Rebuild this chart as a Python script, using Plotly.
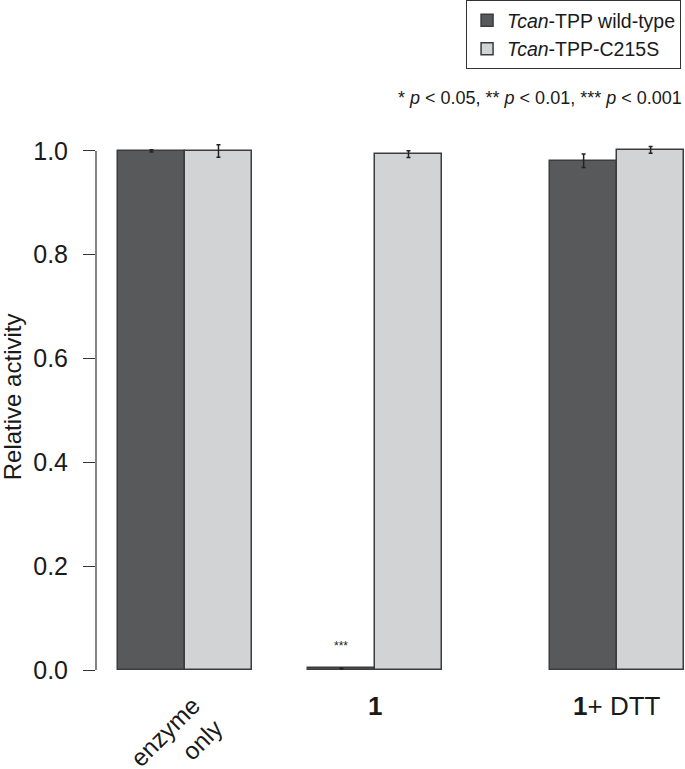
import plotly.graph_objects as go

# ---- data ----
categories = ["enzyme<br>only", "<b>1</b>", "<b>1</b>+ DTT"]
series_names = ["<i>Tcan</i>-TPP wild-type", "<i>Tcan</i>-TPP-C215S"]
wt_values = [1.000, 0.003, 0.981]
wt_errors = [0.002, 0.001, 0.013]
c215s_values = [1.000, 0.994, 1.002]
c215s_errors = [0.012, 0.0065, 0.0065]
significance = ["", "***", ""]
footnote = "* <i>p</i> < 0.05, ** <i>p</i> < 0.01, *** <i>p</i> < 0.001"
y_title = "Relative activity"
y_ticks = [0.0, 0.2, 0.4, 0.6, 0.8, 1.0]

# ---- layout settings ----
group_centers = [0.0, 2.836, 6.45]   # uneven group spacing as in the original
FONT = "Arial, 'Liberation Sans', Helvetica, sans-serif"
dark = "#58595b"
light = "#d1d3d4"
edge = "#3c3c3c"

fig = go.Figure()
fig.add_trace(go.Bar(
    x=group_centers, y=wt_values, name=series_names[0],
    width=1.0, offset=-1.0,
    marker=dict(color=dark, line=dict(color=edge, width=1.5)),
    error_y=dict(type="data", array=wt_errors, color="#222222", thickness=1.5, width=2),
))
fig.add_trace(go.Bar(
    x=group_centers, y=c215s_values, name=series_names[1],
    width=1.0, offset=0.0,
    marker=dict(color=light, line=dict(color=edge, width=1.5)),
    error_y=dict(type="data", array=c215s_errors, color="#222222", thickness=1.5, width=2),
))

annotations = []
# x category labels
for i, (xc, lab) in enumerate(zip(group_centers, categories)):
    if i == 0:
        annotations.append(dict(x=xc, y=0, xref="x", yref="paper", text=lab,
                                showarrow=False, textangle=-45, align="right",
                                xanchor="center", yanchor="middle", yshift=-72, xshift=-8,
                                font=dict(family=FONT, size=24.5, color="#1a1a1a")))
    else:
        annotations.append(dict(x=xc, y=0, xref="x", yref="paper", text=lab,
                                showarrow=False, xanchor="center", yanchor="middle",
                                yshift=-36, font=dict(family=FONT, size=26, color="#1a1a1a")))
# significance stars
for xc, v, s in zip(group_centers, wt_values, significance):
    if s:
        annotations.append(dict(x=xc - 0.5, y=v, xref="x", yref="y", text=s,
                                showarrow=False, yshift=22,
                                font=dict(family=FONT, size=12, color="#222222")))
# footnote
annotations.append(dict(x=1.0, y=1.0418, xref="paper", yref="paper", text=footnote,
                        showarrow=False, xanchor="right", yanchor="middle",
                        font=dict(family=FONT, size=18, color="#1a1a1a")))
# y title
annotations.append(dict(x=0, y=0.4968, xref="paper", yref="paper", text=y_title,
                        showarrow=False, textangle=-90, xanchor="center", yanchor="middle",
                        xshift=-84, font=dict(family=FONT, size=24, color="#1a1a1a")))

fig.update_layout(
    width=685, height=769,
    margin=dict(l=96, r=1, t=120, b=98.5),
    plot_bgcolor="white", paper_bgcolor="white",
    barmode="overlay", bargap=0,
    showlegend=True,
    legend=dict(x=0.995, y=1.218, xanchor="right", yanchor="top",
                bordercolor="#333333", borderwidth=1, bgcolor="white",
                font=dict(family=FONT, size=19.5, color="#1a1a1a"),
                itemwidth=30, tracegroupgap=0),
    xaxis=dict(range=[-1.328, 7.448], showticklabels=False, ticks="",
               showgrid=False, zeroline=False, showline=False, fixedrange=True),
    yaxis=dict(range=[0, 1.0576], tickvals=y_ticks, ticktext=[f"{t:.1f}" for t in y_ticks],
               ticks="outside", ticklen=12, tickwidth=1.2, tickcolor="#333333",
               ticklabelstandoff=10,
               tickfont=dict(family=FONT, size=25, color="#1a1a1a"),
               showgrid=False, zeroline=False, showline=False),
    shapes=[dict(type="line", xref="paper", yref="y", x0=0, x1=0, y0=0, y1=1.0,
                 line=dict(color="#333333", width=1.2))],
    annotations=annotations,
)

fig.write_html(
    "out.html",
    config={"displayModeBar": False},
    post_script="document.body.style.margin='0';document.body.style.padding='0';document.body.style.overflow='hidden';",
)
